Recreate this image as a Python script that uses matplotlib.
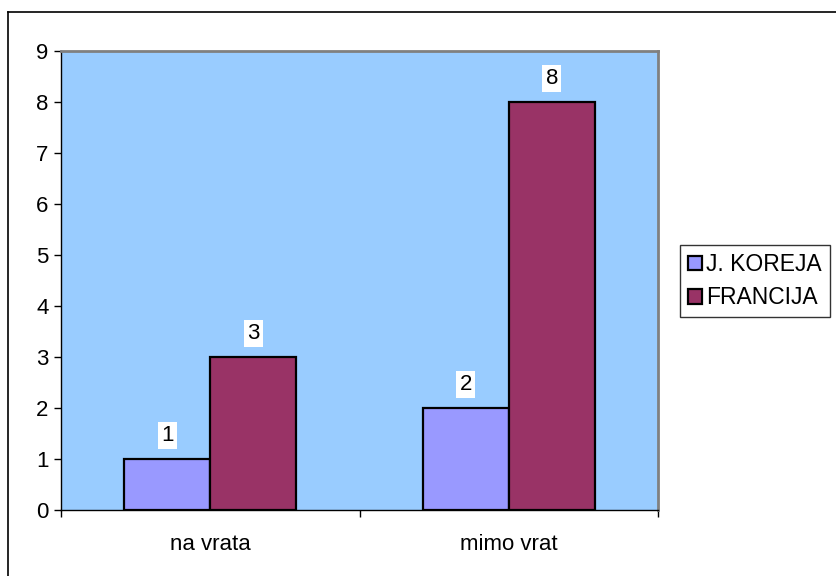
import matplotlib.pyplot as plt
from matplotlib.lines import Line2D

categories = ["na vrata", "mimo vrat"]
series_names = ["J. KOREJA", "FRANCIJA"]
korea = [1, 2]
francija = [3, 8]
colors = ["#9999FF", "#993366"]

plt.rcParams['font.family'] = ['Liberation Sans', 'DejaVu Sans']
fs = 16

fig = plt.figure(figsize=(8.36, 5.76), dpi=100)
ax = fig.add_axes([61 / 836, 66 / 576, 597 / 836, 459 / 576])
ax.set_facecolor("#99CCFF")

# outer chart border (only left and top visible in the crop)
fig.add_artist(Line2D([8 / 836, 8 / 836], [0, 1 - 12 / 576], color="black", lw=1.2))
fig.add_artist(Line2D([8 / 836, 1], [1 - 12 / 576, 1 - 12 / 576], color="black", lw=1.2))

w = 0.288
x = list(range(len(categories)))
for i, (vals, name, c) in enumerate(zip([korea, francija], series_names, colors)):
    pos = [xi + (i - 0.5) * w for xi in x]
    bars = ax.bar(pos, vals, width=w, color=c, edgecolor="black", linewidth=1.6,
                  label=name, zorder=3)
    for b, v in zip(bars, vals):
        ax.annotate(str(v), (b.get_x() + b.get_width() / 2, v), xytext=(0, 17),
                    textcoords="offset points", ha="center", va="center", fontsize=fs,
                    bbox=dict(boxstyle="square,pad=0.15", fc="white", ec="none"))

ax.set_xlim(-0.5, 1.5)
ax.set_ylim(0, 9)
ax.set_yticks(range(10))
ax.set_xticks([-0.5, 0.5, 1.5], minor=False)
ax.set_xticklabels([])
ax.set_xticks(x, minor=True)
ax.set_xticklabels(categories, minor=True)
ax.tick_params(axis="x", which="minor", length=0, pad=17, labelsize=fs)
ax.tick_params(axis="x", which="major", direction="out", length=5, width=1)
ax.tick_params(axis="y", direction="out", length=5, width=1, labelsize=fs, pad=4)

for s in ["top", "right"]:
    ax.spines[s].set_color("#808080")
    ax.spines[s].set_linewidth(2)
for s in ["left", "bottom"]:
    ax.spines[s].set_color("black")
    ax.spines[s].set_linewidth(1)

leg = fig.legend(loc="upper left", bbox_to_anchor=(680 / 836, 1 - 245 / 576),
                 frameon=True, fancybox=False, fontsize=16.5, handlelength=0.6,
                 handleheight=0.6, handletextpad=0.2, borderpad=0.35, labelspacing=0.45,
                 borderaxespad=0)
leg.get_frame().set_edgecolor("black")
leg.get_frame().set_linewidth(1)

fig.savefig("out.png", dpi=100)
